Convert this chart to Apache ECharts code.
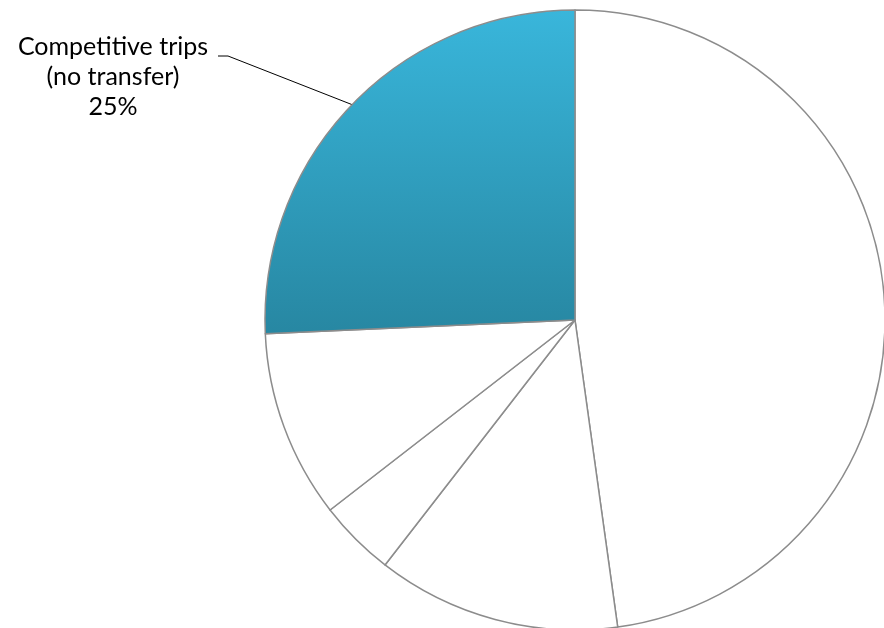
<!DOCTYPE html>
<html>
<head>
<meta charset="utf-8">
<script src="https://cdn.jsdelivr.net/npm/echarts@6/dist/echarts.min.js"></script>
<style>html,body{margin:0;padding:0;background:#fff}#c{width:884px;height:628px}</style>
</head>
<body>
<div id="c"></div>
<script>
var categories = ['Other trips A', 'Other trips B', 'Other trips C', 'Other trips D', 'Competitive trips\n(no transfer)'];
var values = [47.8, 12.7, 4.0, 9.8, 25.7];
var labelled = [false, false, false, false, true];
var pctLabels = ['48%', '13%', '4%', '10%', '25%'];

var chart = echarts.init(document.getElementById('c'));
var data = categories.map(function (name, i) {
  var item = { name: name, value: values[i] };
  if (labelled[i]) {
    item.itemStyle = {
      color: new echarts.graphic.LinearGradient(0, 0, 0, 1, [
        { offset: 0, color: '#39b6db' },
        { offset: 1, color: '#2787a2' }
      ])
    };
    item.label = { show: true };
    item.labelLine = { show: true };
  } else {
    item.itemStyle = { color: '#ffffff' };
    item.label = { show: false };
    item.labelLine = { show: false };
  }
  return item;
});

chart.setOption({
  animation: false,
  series: [{
    type: 'pie',
    center: [575, 320],
    radius: [0, 310],
    startAngle: 90,
    clockwise: true,
    data: data,
    itemStyle: { borderColor: '#8c8c8c', borderWidth: 1.5 },
    label: {
      position: 'outside',
      fontFamily: 'Lato, "Open Sans", sans-serif',
      fontSize: 25,
      lineHeight: 30,
      color: '#000',
      align: 'center',
      formatter: function (p) { return p.name + '\n' + pctLabels[p.dataIndex]; }
    },
    labelLine: { lineStyle: { color: '#000', width: 1 } },
    labelLayout: function (p) {
      return {
        x: 113,
        y: 77,
        align: 'center',
        verticalAlign: 'middle',
        labelLinePoints: [[353, 105], [228, 56], [218, 56]]
      };
    }
  }]
});
</script>
</body>
</html>
